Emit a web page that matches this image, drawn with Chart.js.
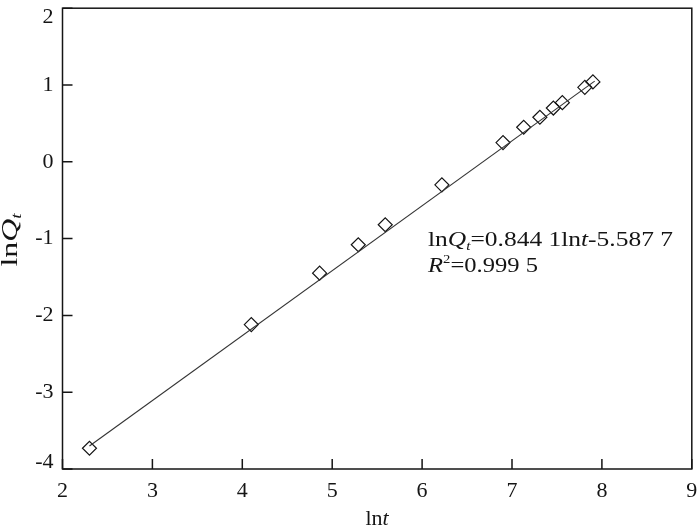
<!DOCTYPE html>
<html><head><meta charset="utf-8">
<script src="https://cdn.jsdelivr.net/npm/chart.js@4.4.1/dist/chart.umd.min.js"></script>
<style>html,body{margin:0;padding:0;background:#fff}#wrap{width:700px;height:528px}</style>
</head><body><div id="wrap"><canvas id="c" width="700" height="528"></canvas></div>
<script>
// Data
const lnT   = [2.30, 4.10, 4.86, 5.29, 5.59, 6.22, 6.90, 7.13, 7.31, 7.46, 7.56, 7.81, 7.90];
const lnQt  = [-3.73, -2.12, -1.45, -1.08, -0.82, -0.30, 0.25, 0.45, 0.58, 0.70, 0.77, 0.97, 1.04];
const fitX  = [2.30, 7.92];
const fitY  = [-3.70, 1.05];
const xTicks = [2, 3, 4, 5, 6, 7, 8, 9];
const yTicks = [-4, -3, -2, -1, 0, 1, 2];

const SERIF = '"Liberation Serif", "DejaVu Serif", serif';
const INK = '#151515';

function drawRich(ctx, parts, x, y, size) {
  let cx = x;
  for (const p of parts) {
    const s = p.sub || p.sup ? size * 0.6 : size;
    ctx.font = (p.it ? 'italic ' : '') + s + 'px ' + SERIF;
    const dy = p.sub ? size * 0.18 : (p.sup ? -size * 0.42 : 0);
    ctx.fillText(p.t, cx, y + dy);
    cx += ctx.measureText(p.t).width;
  }
  return cx - x;
}
function measureRich(ctx, parts, size) {
  let w = 0;
  for (const p of parts) {
    const s = p.sub || p.sup ? size * 0.6 : size;
    ctx.font = (p.it ? 'italic ' : '') + s + 'px ' + SERIF;
    w += ctx.measureText(p.t).width;
  }
  return w;
}
// draw rich text stretched horizontally to a target width
function drawFit(ctx, parts, x, y, size, targetW) {
  const w = measureRich(ctx, parts, size);
  const k = targetW ? targetW / w : 1;
  ctx.save(); ctx.translate(x, y); ctx.scale(k, 1);
  drawRich(ctx, parts, 0, 0, size);
  ctx.restore();
}

const decor = {
  id: 'decor',
  beforeDraw(chart) {
    const y = chart.scales.y;
    const items = y.getLabelItems();
    for (const it of items) {
      if (it.label === '2') it.options.translation[1] += 9.5;
      if (it.label === '-4') it.options.translation[1] -= 7;
    }
  },
  afterDraw(chart) {
    const ctx = chart.ctx, a = chart.chartArea, xs = chart.scales.x, ys = chart.scales.y;
    ctx.save();
    ctx.strokeStyle = INK; ctx.lineWidth = 1.5;
    ctx.strokeRect(a.left, a.top, a.right - a.left, a.bottom - a.top);
    ctx.beginPath();
    for (const v of xTicks) { const px = xs.getPixelForValue(v); ctx.moveTo(px, a.bottom); ctx.lineTo(px, a.bottom - 10); }
    for (const v of yTicks) { const py = ys.getPixelForValue(v); ctx.moveTo(a.left, py); ctx.lineTo(a.left + 10, py); }
    ctx.stroke();
    ctx.fillStyle = INK; ctx.textBaseline = 'alphabetic'; ctx.textAlign = 'left';
    // x title
    const xt = [{t:'ln'},{t:'t',it:true}];
    const wx = measureRich(ctx, xt, 22);
    drawRich(ctx, xt, 377 - wx/2, 525, 22);
    // y title (rotated)
    const yt = [{t:'ln'},{t:'Q',it:true},{t:'t',it:true,sub:true}];
    ctx.save(); ctx.translate(17, 240); ctx.rotate(-Math.PI/2);
    drawFit(ctx, yt, -26.5, 0, 23, 53);
    ctx.restore();
    // equation
    drawFit(ctx, [{t:'ln'},{t:'Q',it:true},{t:'t',it:true,sub:true},{t:'=0.844 1ln'},{t:'t',it:true},{t:'-5.587 7'}], 428, 246, 22, 245);
    drawFit(ctx, [{t:'R',it:true},{t:'2',sup:true},{t:'=0.999 5'}], 428, 272, 22, 110);
    ctx.restore();
  }
};

new Chart(document.getElementById('c'), {
  data: {
    datasets: [
      { type: 'line', data: fitX.map((x, i) => ({x, y: fitY[i]})), borderColor: '#333', borderWidth: 1.1, pointRadius: 0, fill: false, tension: 0 },
      { type: 'scatter', data: lnT.map((x, i) => ({x, y: lnQt[i]})), pointStyle: 'rectRot', pointRadius: 7, pointBorderColor: INK, pointBackgroundColor: 'rgba(255,255,255,0)', pointBorderWidth: 1.2 }
    ]
  },
  options: {
    responsive: false, animation: false, devicePixelRatio: 1,
    layout: { padding: { left: 0, right: 6, top: 1, bottom: 0 } },
    plugins: { legend: { display: false }, tooltip: { enabled: false } },
    scales: {
      x: {
        type: 'linear', min: 2, max: 9,
        afterBuildTicks: s => { s.ticks = xTicks.map(v => ({value: v})); },
        afterFit: s => { s.height = 59; s.paddingLeft = 0; s.paddingRight = 0; },
        grid: { display: false, drawTicks: false }, border: { display: false },
        ticks: { color: INK, font: { family: SERIF, size: 22 }, padding: 9, maxRotation: 0 }
      },
      y: {
        type: 'linear', min: -4, max: 2,
        afterBuildTicks: s => { s.ticks = yTicks.map(v => ({value: v})); },
        afterFit: s => { s.width = 62.5; s.paddingTop = 0; s.paddingBottom = 0; },
        grid: { display: false, drawTicks: false }, border: { display: false },
        ticks: { color: INK, font: { family: SERIF, size: 22 }, padding: 9 }
      }
    }
  },
  plugins: [decor]
});
</script></body></html>
